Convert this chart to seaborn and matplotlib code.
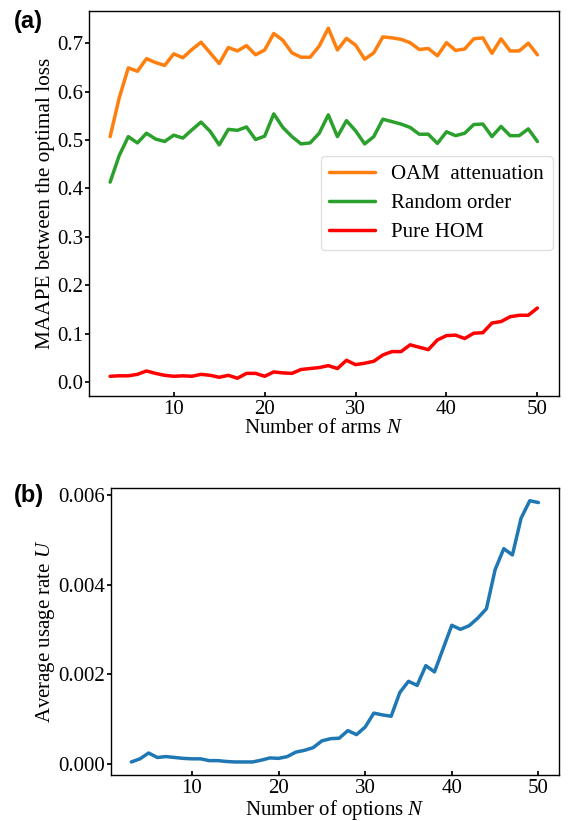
import numpy as np
import pandas as pd
import matplotlib
matplotlib.use('Agg')
import matplotlib.pyplot as plt
import seaborn as sns

# ---- data ----
n_arms = list(range(3, 51))

oam_attenuation = [0.507, 0.587, 0.649, 0.642, 0.668, 0.660, 0.654, 0.678, 0.670, 0.687,
                   0.702, 0.680, 0.658, 0.691, 0.684, 0.695, 0.676, 0.686, 0.720, 0.706,
                   0.680, 0.671, 0.671, 0.694, 0.731, 0.686, 0.710, 0.696, 0.667, 0.680,
                   0.713, 0.711, 0.708, 0.701, 0.687, 0.689, 0.674, 0.701, 0.685, 0.688,
                   0.709, 0.711, 0.679, 0.709, 0.684, 0.684, 0.700, 0.676]

random_order = [0.413, 0.468, 0.507, 0.494, 0.514, 0.502, 0.497, 0.510, 0.504, 0.521,
                0.537, 0.518, 0.490, 0.522, 0.520, 0.527, 0.501, 0.508, 0.554, 0.526,
                0.507, 0.492, 0.494, 0.514, 0.552, 0.507, 0.540, 0.519, 0.492, 0.507,
                0.543, 0.538, 0.533, 0.526, 0.512, 0.512, 0.493, 0.517, 0.509, 0.514,
                0.532, 0.533, 0.507, 0.528, 0.509, 0.509, 0.523, 0.497]

pure_hom = [0.012, 0.013, 0.013, 0.016, 0.023, 0.018, 0.014, 0.012, 0.013, 0.012,
            0.016, 0.014, 0.010, 0.014, 0.008, 0.018, 0.018, 0.012, 0.021, 0.019,
            0.018, 0.026, 0.028, 0.030, 0.034, 0.028, 0.045, 0.036, 0.039, 0.043,
            0.056, 0.063, 0.063, 0.077, 0.072, 0.067, 0.087, 0.096, 0.097, 0.090,
            0.101, 0.102, 0.122, 0.125, 0.135, 0.138, 0.138, 0.153]

usage_rate = [0.00004, 0.00011, 0.00024, 0.00014, 0.00016, 0.00014, 0.00012, 0.00011,
              0.00011, 0.00007, 0.00007, 0.00005, 0.00004, 0.00004, 0.00004, 0.00008,
              0.00013, 0.00012, 0.00016, 0.00026, 0.00030, 0.00036, 0.00051, 0.00056,
              0.00057, 0.00074, 0.00065, 0.00082, 0.00113, 0.00109, 0.00106, 0.00159,
              0.00184, 0.00175, 0.00219, 0.00205, 0.00257, 0.00309, 0.00300, 0.00308,
              0.00325, 0.00346, 0.00433, 0.00480, 0.00466, 0.00548, 0.00587, 0.00583]

series_names = ['OAM  attenuation', 'Random order', 'Pure HOM']
series_colors = ['#ff7f0e', '#2ca02c', '#ff0000']

df_a = pd.DataFrame({
    'N': n_arms * 3,
    'value': oam_attenuation + random_order + pure_hom,
    'method': [s for s in series_names for _ in n_arms],
})
df_b = pd.DataFrame({'N': n_arms, 'U': usage_rate})

# ---- style ----
sns.set_theme(style='ticks')
plt.rcParams['font.family'] = ['Liberation Serif', 'DejaVu Serif']
plt.rcParams['mathtext.fontset'] = 'custom'
plt.rcParams['mathtext.rm'] = 'Liberation Serif'
plt.rcParams['mathtext.it'] = 'Liberation Serif:italic'
plt.rcParams['text.color'] = 'black'
plt.rcParams['axes.labelcolor'] = 'black'
plt.rcParams['xtick.color'] = 'black'
plt.rcParams['ytick.color'] = 'black'
FS = 15

fig = plt.figure(figsize=(5.69, 8.21), dpi=100)
ax1 = fig.add_axes([0.156, 0.518, 0.826, 0.469])
ax2 = fig.add_axes([0.195, 0.056, 0.787, 0.350])

# Panel (a)
sns.lineplot(data=df_a, x='N', y='value', hue='method', hue_order=series_names,
             palette=series_colors, linewidth=2.5, ax=ax1)
ax1.set_xlabel('Number of arms $N$', fontsize=FS, labelpad=0)
ax1.set_ylabel('MAAPE between the optimal loss', fontsize=15.3)
ax1.yaxis.set_label_coords(-0.072, 0.5)
ax1.set_yticks([0.0, 0.1, 0.2, 0.3, 0.4, 0.5, 0.6, 0.7])
ax1.legend(loc='center right', fontsize=FS, frameon=True, framealpha=0.8,
           edgecolor='0.85', handlelength=2.2, borderpad=0.4, labelspacing=0.45,
           borderaxespad=0.3)

# Panel (b)
sns.lineplot(data=df_b, x='N', y='U', color='#1f77b4', linewidth=2.5, ax=ax2)
ax2.set_xlabel('Number of options $N$', fontsize=FS, labelpad=0)
ax2.set_ylabel('Average usage rate $U$', fontsize=FS)
ax2.yaxis.set_label_coords(-0.12, 0.5)
ax2.set_yticks([0.0, 0.002, 0.004, 0.006])
ax2.set_yticklabels(['0.000', '0.002', '0.004', '0.006'])

for ax in (ax1, ax2):
    ax.set_xticks([10, 20, 30, 40, 50])
    ax.tick_params(axis='x', direction='in', length=3, labelsize=FS, pad=3)
    ax.tick_params(axis='y', direction='out', length=3, labelsize=FS, pad=1)
    for sp in ax.spines.values():
        sp.set_visible(True)
        sp.set_color('black')
        sp.set_linewidth(1.0)

fig.text(0.025, 0.988, '(a)', fontsize=17, fontweight='bold',
         family='Liberation Sans', va='top', ha='left')
fig.text(0.025, 0.410, '(b)', fontsize=17, fontweight='bold',
         family='Liberation Sans', va='top', ha='left')

fig.savefig('out.png', dpi=100)
plt.close(fig)
